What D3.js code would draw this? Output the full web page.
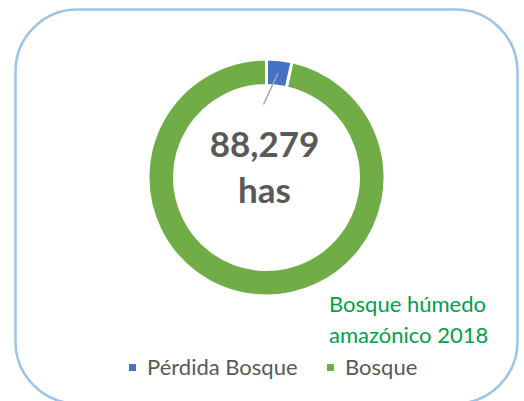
<!DOCTYPE html>
<html lang="es">
<head>
<meta charset="UTF-8">
<title>Bosque húmedo amazónico 2018</title>
<script src="https://d3js.org/d3.v7.min.js"></script>
<style>
    html, body { margin: 0; padding: 0; background: #fff; }
    svg { display: block; font-family: Lato, "Open Sans", sans-serif; }
</style>
</head>
<body>
<script>
// Data
const categories = ["Pérdida Bosque", "Bosque"];
const values = [88279, 2450000];
const colors = ["#4472C4", "#70AD47"];
const centerLabel = ["88,279", "has"];
const titleLines = ["Bosque húmedo", "amazónico 2018"];

const W = 524, H = 401;
const cx = 266.5, cy = 177.5;
const outerR = 118.5, innerR = 92;

const svg = d3.select("body").append("svg")
    .attr("width", W)
    .attr("height", H);

// Rounded frame
svg.append("rect")
    .attr("x", 15.5).attr("y", 9.5)
    .attr("width", 502).attr("height", 394)
    .attr("rx", 62).attr("ry", 62)
    .attr("fill", "none")
    .attr("stroke", "#9DC3E6")
    .attr("stroke-width", 2.5);

const pie = d3.pie().sort(null).value(d => d);
const arc = d3.arc().innerRadius(innerR).outerRadius(outerR);
const arcs = pie(values);

const g = svg.append("g").attr("transform", `translate(${cx},${cy})`);

g.selectAll("path")
    .data(arcs)
    .enter()
    .append("path")
    .attr("d", arc)
    .attr("fill", (d, i) => colors[i])
    .attr("stroke", "#fff")
    .attr("stroke-width", 3);

// Leader line from small slice toward the centre label
const mid = (arcs[0].startAngle + arcs[0].endAngle) / 2;
const pStart = [Math.sin(mid) * (innerR + 13), -Math.cos(mid) * (innerR + 13)];
g.append("line")
    .attr("x1", pStart[0]).attr("y1", pStart[1])
    .attr("x2", -3).attr("y2", -73)
    .attr("stroke", "#A6A6A6")
    .attr("stroke-width", 1.5);

// Centre label
g.append("text")
    .attr("x", -2).attr("y", -21)
    .attr("text-anchor", "middle")
    .attr("font-size", 35)
    .attr("font-weight", "bold")
    .attr("fill", "#595959")
    .text(centerLabel[0]);
g.append("text")
    .attr("x", -2).attr("y", 25)
    .attr("text-anchor", "middle")
    .attr("font-size", 35)
    .attr("font-weight", "bold")
    .attr("fill", "#595959")
    .text(centerLabel[1]);

// Green title bottom right
titleLines.forEach((t, i) => {
    svg.append("text")
        .attr("x", 329)
        .attr("y", 312 + i * 31)
        .attr("font-size", 22)
        .attr("fill", "#00A14B")
        .text(t);
});

// Legend
const legendX = [129, 327];
categories.forEach((c, i) => {
    svg.append("rect")
        .attr("x", legendX[i]).attr("y", 364)
        .attr("width", 7).attr("height", 7)
        .attr("fill", colors[i]);
    svg.append("text")
        .attr("x", legendX[i] + 18)
        .attr("y", 375)
        .attr("font-size", 22)
        .attr("fill", "#595959")
        .text(c);
});
</script>
</body>
</html>
